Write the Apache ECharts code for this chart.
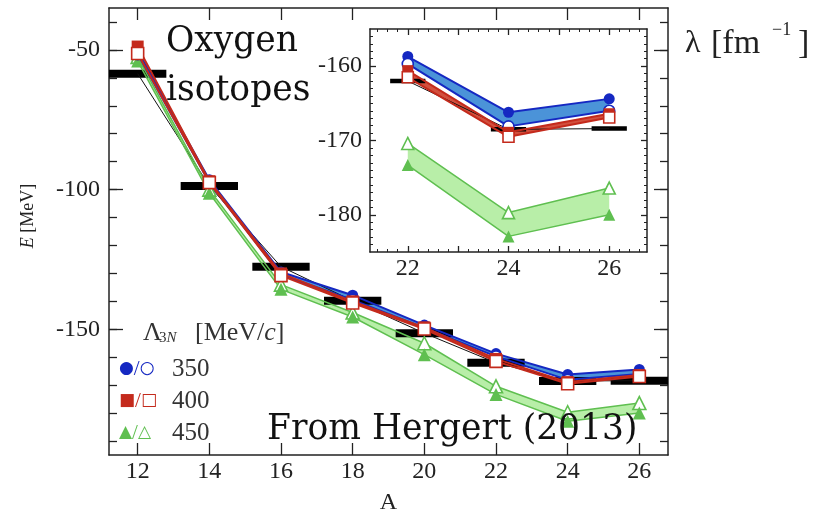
<!DOCTYPE html>
<html>
<head>
<meta charset="utf-8">
<script src="https://cdn.jsdelivr.net/npm/echarts@6/dist/echarts.min.js"></script>
<style>html,body{margin:0;padding:0;background:#fff}#c{width:813px;height:511px}</style>
</head>
<body>
<div id="c"></div>
<script>
// ---- data ----
const A = [12, 14, 16, 18, 20, 22, 24, 26];
const EXP = [-58.5, -98.7, -127.6, -139.8, -151.4, -162.0, -168.5, -168.4];
const L350_FILLED = [-50.5, -96.5, -129.5, -137.8, -148.5, -158.7, -166.2, -164.4];
const L350_OPEN   = [-51.5, -97.5, -130.5, -139.5, -149.5, -159.7, -168.1, -166.0];
const L400_FILLED = [-48.8, -97.0, -130.0, -140.0, -149.3, -160.6, -168.9, -166.4];
const L400_OPEN   = [-51.3, -97.5, -130.8, -140.6, -149.9, -161.5, -169.5, -166.9];
const L450_OPEN   = [-52.5, -100.0, -134.0, -144.0, -155.0, -170.4, -179.7, -176.4];
const L450_FILLED = [-54.0, -101.3, -135.7, -145.6, -159.1, -173.3, -182.9, -180.0];
const INSET_FIRST = 5; // inset shows A = 22, 24, 26

const X_LABELS = [12, 14, 16, 18, 20, 22, 24, 26];
const Y_LABELS = [-150, -100, -50];
const INSET_X_LABELS = [22, 24, 26];
const INSET_Y_LABELS = [-180, -170, -160];
const LEGEND_VALUES = ['350', '400', '450'];

// ---- styles ----
const BLUE = '#1528c2', BLUE_BAND = '#4b93d8';
const RED = '#c42a1c', RED_BAND = '#d2503e';
const GREEN = '#5fbf50', GREEN_BAND = '#b8eea8';
const AX = '#222';
const SERIF = 'Liberation Serif';

function steps(a, b, s) {
  const r = [];
  const n = Math.round((b - a) / s);
  for (let i = 0; i <= n; i++) r.push(Math.round((a + i * s) * 1000) / 1000);
  return r;
}

function pairs(xs, ys, from) {
  return xs.slice(from).map((x, i) => [x, ys[from + i]]);
}

function valueAxis(o) {
  return {
    type: 'value', gridIndex: o.grid, position: o.pos, min: o.min, max: o.max,
    axisLine: { show: !!o.line, onZero: false, lineStyle: { color: AX, width: 1.5 } },
    axisTick: { show: true, inside: true, length: o.len, customValues: o.ticks, lineStyle: { color: AX, width: o.tw || 1.3 } },
    axisLabel: o.labels ? { show: true, customValues: o.labels, margin: o.margin, fontSize: o.fs, fontFamily: SERIF, color: '#222' } : { show: false },
    splitLine: { show: false },
    name: o.name || '', nameLocation: 'middle', nameGap: o.nameGap || 0,
    nameTextStyle: { fontSize: 24, fontFamily: SERIF, color: '#222' }
  };
}

const xAxes = [
  // main grid
  valueAxis({ grid: 0, pos: 'bottom', min: 11.2, max: 26.8, line: true, len: 12, ticks: X_LABELS, labels: X_LABELS, margin: 5, fs: 24, name: 'A', nameGap: 36 }),
  valueAxis({ grid: 0, pos: 'top', min: 11.2, max: 26.8, line: true, len: 12, ticks: X_LABELS }),
  // inset grid
  valueAxis({ grid: 1, pos: 'bottom', min: 21.25, max: 26.75, line: true, len: 6, ticks: steps(22, 26, 1), labels: INSET_X_LABELS, margin: 5, fs: 24 }),
  valueAxis({ grid: 1, pos: 'bottom', min: 21.25, max: 26.75, len: 3, ticks: steps(21.4, 26.6, 0.2), tw: 1 }),
  valueAxis({ grid: 1, pos: 'top', min: 21.25, max: 26.75, line: true, len: 6, ticks: steps(22, 26, 1) }),
  valueAxis({ grid: 1, pos: 'top', min: 21.25, max: 26.75, len: 3, ticks: steps(21.4, 26.6, 0.2), tw: 1 })
];
const yAxes = [
  valueAxis({ grid: 0, pos: 'left', min: -195, max: -35, line: true, len: 14, ticks: Y_LABELS, labels: Y_LABELS, margin: 9, fs: 24 }),
  valueAxis({ grid: 0, pos: 'left', min: -195, max: -35, len: 8, ticks: steps(-190, -40, 10) }),
  valueAxis({ grid: 0, pos: 'right', min: -195, max: -35, line: true, len: 14, ticks: Y_LABELS }),
  valueAxis({ grid: 0, pos: 'right', min: -195, max: -35, len: 8, ticks: steps(-190, -40, 10) }),
  valueAxis({ grid: 1, pos: 'left', min: -185, max: -155, line: true, len: 6, ticks: INSET_Y_LABELS, labels: INSET_Y_LABELS, margin: 8, fs: 24 }),
  valueAxis({ grid: 1, pos: 'left', min: -185, max: -155, len: 3, ticks: steps(-184, -156, 1), tw: 1 }),
  valueAxis({ grid: 1, pos: 'right', min: -185, max: -155, line: true, len: 6, ticks: INSET_Y_LABELS }),
  valueAxis({ grid: 1, pos: 'right', min: -185, max: -155, len: 3, ticks: steps(-184, -156, 1), tw: 1 })
];

function band(xi, yi, from, upper, lower, fill, z) {
  const xs = A.slice(from);
  return {
    type: 'custom', xAxisIndex: xi, yAxisIndex: yi, z: z, silent: true,
    data: [[xs[0], upper[from]]],
    renderItem: function (params, api) {
      const top = xs.map((x, i) => api.coord([x, upper[from + i]]));
      const bot = xs.map((x, i) => api.coord([x, lower[from + i]])).reverse();
      return { type: 'polygon', shape: { points: top.concat(bot) }, style: { fill: fill } };
    }
  };
}

function bars(xi, yi, from, halfW, thick) {
  return {
    type: 'custom', xAxisIndex: xi, yAxisIndex: yi, z: 3, silent: true,
    data: pairs(A, EXP, from),
    renderItem: function (params, api) {
      const a = api.value(0), e = api.value(1);
      const p1 = api.coord([a - halfW, e]);
      const p2 = api.coord([a + halfW, e]);
      return { type: 'rect', shape: { x: p1[0], y: p1[1] - thick / 2, width: p2[0] - p1[0], height: thick }, style: { fill: '#000' } };
    }
  };
}

function line(xi, yi, from, ys, color, width, symbol, size, filled, z) {
  return {
    type: 'line', xAxisIndex: xi, yAxisIndex: yi, z: z,
    data: pairs(A, ys, from),
    symbol: symbol, symbolSize: size, showSymbol: true,
    lineStyle: { color: color, width: width },
    itemStyle: filled ? { color: color, borderWidth: 0 } : { color: '#fff', borderColor: color, borderWidth: 1.6 },
    emphasis: { disabled: true }, silent: true
  };
}

function seriesFor(xi, yi, from, ms) {
  return [
    band(xi, yi, from, L450_OPEN, L450_FILLED, GREEN_BAND, 2),
    band(xi, yi, from, L350_FILLED, L350_OPEN, BLUE_BAND, 2),
    band(xi, yi, from, L400_FILLED, L400_OPEN, RED_BAND, 2),
    bars(xi, yi, from, ms.hw, ms.thick),
    { type: 'line', xAxisIndex: xi, yAxisIndex: yi, z: 3, data: pairs(A, EXP, from), symbol: 'none',
      lineStyle: { color: '#111', width: 1 }, emphasis: { disabled: true }, silent: true },
    line(xi, yi, from, L450_OPEN, GREEN, 1.5, 'triangle', ms.tri, false, 4),
    line(xi, yi, from, L450_FILLED, GREEN, 1.5, 'triangle', ms.tri, true, 4),
    line(xi, yi, from, L350_FILLED, BLUE, 2, 'circle', ms.circ, true, 5),
    line(xi, yi, from, L350_OPEN, BLUE, 2, 'circle', ms.circ, false, 5),
    line(xi, yi, from, L400_FILLED, RED, 2, 'rect', ms.sq, true, 6),
    line(xi, yi, from, L400_OPEN, RED, 2, 'rect', ms.sq, false, 6)
  ];
}

const series = [].concat(
  seriesFor(0, 0, 0, { hw: 0.8, thick: 8, tri: 13, circ: 11, sq: 12 }),
  seriesFor(2, 4, INSET_FIRST, { hw: 0.35, thick: 4.5, tri: 12, circ: 11, sq: 11 })
);

function txt(x, y, text, font, fill, extra) {
  return Object.assign({ type: 'text', x: x, y: y, z: 100,
    style: Object.assign({ text: text, font: font, fill: fill || '#111', align: 'left', verticalAlign: 'middle' }, (extra || {}).style || {}) },
    (extra || {}).el || {});
}

const legendRows = [
  { f: '\u25CF', o: '\u25CB', c: BLUE },
  { f: '\u25A0', o: '\u25A1', c: RED },
  { f: '\u25B2', o: '\u25B3', c: GREEN }
];
const legendY = [369, 401, 433];

const graphic = [
  txt(166, 42, 'Oxygen', "34.5px 'DejaVu Serif'", '#111'),
  txt(166, 91, 'isotopes', "34.5px 'DejaVu Serif'", '#111'),
  txt(267, 430, 'From Hergert (2013)', "34.5px 'DejaVu Serif'", '#111'),
  txt(685, 44, '\u03BB', "32px 'Liberation Serif'", '#222'),
  txt(711, 44, '[fm', "34px 'Liberation Serif'", '#222', { style: { letterSpacing: 3 } }),
  txt(772, 30, '\u22121', "18px 'Liberation Serif'", '#222'),
  txt(798, 44, ']', "34px 'Liberation Serif'", '#222'),
  txt(28, 216, '', '', '#222', {
    el: { rotation: Math.PI / 2 },
    style: { text: '{i|E} [MeV]', font: "18px 'Liberation Serif'", align: 'center',
      rich: { i: { font: "italic 18px 'Liberation Serif'", fill: '#222' } } }
  }),
  txt(143, 333, '\u039B', "26px 'Liberation Serif'", '#333'),
  txt(159, 338, '', '', '#333', {
    style: { text: '{a|3}{b|N}', font: "15px 'Liberation Serif'",
      rich: { a: { font: "15px 'Liberation Serif'", fill: '#333' }, b: { font: "italic 15px 'Liberation Serif'", fill: '#333' } } }
  }),
  txt(195, 333, '', '', '#333', {
    style: { text: '{a|[MeV/}{b|c}{a|]}', font: "26px 'Liberation Serif'",
      rich: { a: { font: "26px 'Liberation Serif'", fill: '#333' }, b: { font: "italic 26px 'Liberation Serif'", fill: '#333' } } }
  })
];
legendRows.forEach((r, i) => {
  graphic.push(txt(119, legendY[i], '', '', r.c, {
    style: { text: '{m|' + r.f + '}{s|/}{m|' + r.o + '}', font: "17px 'DejaVu Sans'",
      rich: { m: { font: "17px 'DejaVu Sans'", fill: r.c }, s: { font: "21px 'Liberation Serif'", fill: r.c } } }
  }));
  graphic.push(txt(172, legendY[i], LEGEND_VALUES[i], "25px 'Liberation Serif'", '#333'));
});

const chart = echarts.init(document.getElementById('c'), null, { renderer: 'canvas' });
chart.setOption({
  backgroundColor: '#fff',
  animation: false,
  grid: [
    { left: 109, top: 8, width: 559, height: 447, show: false, containLabel: false, outerBoundsMode: 'none' },
    { left: 370, top: 29, width: 277, height: 223, show: true, backgroundColor: '#fff', borderWidth: 0, containLabel: false, outerBoundsMode: 'none' }
  ],
  xAxis: xAxes,
  yAxis: yAxes,
  series: series,
  graphic: graphic
});
</script>
</body>
</html>
